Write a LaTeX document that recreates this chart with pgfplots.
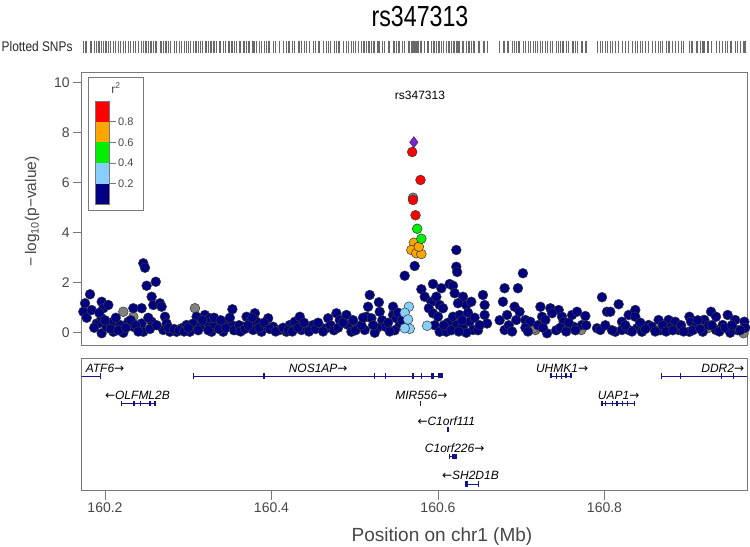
\documentclass[border=0pt]{standalone}
\usepackage{fontspec}
\setmainfont{Liberation Sans}
\newfontfamily\arrowfont{DejaVu Sans}
\usepackage{graphicx}
\usepackage{pgfplots}
\pgfplotsset{compat=1.18}
\usepackage{pgfplotstable}

\definecolor{navyc}{RGB}{0,0,128}
\definecolor{lbc}{RGB}{135,206,250}
\definecolor{orc}{RGB}{255,165,0}
\definecolor{grc}{RGB}{0,238,0}
\definecolor{rdc}{RGB}{255,0,0}
\definecolor{puc}{RGB}{125,38,205}
\definecolor{gyc}{RGB}{128,128,128}
\definecolor{edgec}{RGB}{55,55,55}
\definecolor{framec}{RGB}{120,120,120}
\definecolor{ticklabc}{RGB}{70,70,70}
\definecolor{snpc}{RGB}{105,105,105}
\definecolor{genec}{RGB}{20,20,130}

\pgfplotstableread{
x y
160.174 0.84
160.176 1.18
160.182 1.54
160.184 0.91
160.190 0.37
160.192 0.37
160.196 1.24
160.196 0.58
160.196 -0.02
160.198 0.98
160.202 0.24
160.204 1.11
160.206 0.37
160.210 0.44
160.210 0.04
160.218 0.31
160.222 0.00
160.228 0.44
160.234 0.98
160.234 0.24
160.244 0.98
160.244 0.37
160.246 0.04
160.246 2.78
160.248 2.60
160.250 1.88
160.261 2.04
160.256 1.44
160.258 1.11
160.266 1.18
160.268 1.04
160.256 0.44
160.272 0.64
160.274 0.37
160.270 0.11
160.278 0.04
160.286 0.04
160.292 0.18
160.298 0.31
160.302 0.04
160.310 0.64
160.306 0.37
160.314 0.24
160.320 0.71
160.322 0.44
160.326 0.58
160.328 0.04
160.334 0.37
160.330 0.24
160.342 0.04
160.348 0.44
160.353 0.94
160.352 0.31
160.358 0.11
160.366 0.24
160.370 0.64
160.374 0.44
160.380 0.78
160.382 0.44
160.378 0.11
160.388 0.04
160.396 0.58
160.394 0.24
160.402 0.24
160.410 0.11
160.418 0.04
160.422 0.31
160.428 0.44
160.434 0.64
160.436 0.11
160.442 0.24
160.450 0.31
160.458 0.24
160.466 0.18
160.468 0.58
160.478 0.78
160.482 0.51
160.490 0.71
160.492 0.31
160.504 0.24
160.496 0.04
160.512 0.11
160.518 1.51
160.516 1.04
160.514 0.64
160.520 0.58
160.529 1.22
160.530 0.84
160.533 0.50
160.536 0.25
160.527 0.20
160.524 0.00
160.546 1.04
160.546 0.71
160.550 0.58
160.554 0.30
160.548 0.10
160.560 2.28
160.572 2.67
160.580 1.74
160.594 1.95
160.604 1.78
160.584 1.44
160.592 1.24
160.598 1.44
160.602 1.11
160.589 0.98
160.594 0.78
160.600 0.64
160.606 0.98
160.596 0.30
160.602 0.04
160.610 0.04
160.612 0.40
160.618 0.64
160.614 1.95
160.618 1.88
160.622 3.31
160.622 2.64
160.623 2.43
160.620 1.58
160.630 1.44
160.634 1.11
160.624 1.18
160.626 0.71
160.622 0.31
160.630 0.24
160.638 0.44
160.640 1.24
160.642 0.11
160.634 0.00
160.654 1.51
160.656 1.11
160.656 0.71
160.659 0.37
160.648 0.10
160.680 1.78
160.696 1.78
160.678 1.24
160.692 1.04
160.683 0.71
160.698 0.84
160.694 0.51
160.680 0.11
160.702 2.38
160.705 0.51
160.711 0.44
160.723 1.04
160.735 0.98
160.745 0.91
160.725 0.64
160.737 0.78
160.729 0.51
160.749 0.64
160.751 0.44
160.761 0.71
160.767 0.84
160.777 0.67
160.763 0.24
160.773 0.31
160.731 -0.02
160.797 1.42
160.803 0.84
160.807 0.84
160.817 1.14
160.791 0.18
160.795 0.11
160.821 0.44
160.829 0.71
160.837 0.91
160.837 0.64
160.813 0.04
160.821 0.11
160.829 0.11
160.839 0.18
160.845 0.04
160.853 0.31
160.857 0.24
160.865 0.51
160.867 0.10
160.877 0.51
160.885 0.44
160.878 0.20
160.889 0.11
160.902 0.04
160.902 0.64
160.904 0.44
160.910 0.30
160.920 0.51
160.928 0.84
160.934 0.64
160.918 0.04
160.934 0.11
160.942 0.31
160.948 0.71
160.957 0.51
160.960 0.10
160.968 0.44
160.969 0.20
160.951 0.00
160.925 0.30
160.178 0.60
160.187 0.20
160.193 0.80
160.200 0.50
160.207 0.15
160.213 0.60
160.216 0.10
160.225 0.20
160.231 0.50
160.237 0.30
160.240 0.05
160.252 0.60
160.254 0.15
160.262 0.30
160.276 0.20
160.283 0.15
160.289 0.10
160.295 0.05
160.300 0.20
160.312 0.10
160.317 0.50
160.324 0.10
160.331 0.60
160.337 0.15
160.339 0.50
160.345 0.20
160.350 0.60
160.355 0.10
160.361 0.30
160.363 0.05
160.368 0.15
160.372 0.30
160.377 0.60
160.385 0.20
160.391 0.40
160.398 0.15
160.405 0.05
160.414 0.20
160.420 0.10
160.425 0.05
160.432 0.20
160.439 0.40
160.445 0.05
160.453 0.15
160.456 0.40
160.462 0.05
160.471 0.30
160.475 0.10
160.480 0.20
160.486 0.40
160.498 0.50
160.501 0.10
160.508 0.30
160.510 0.60
160.522 0.30
160.540 0.40
160.542 0.05
160.552 0.80
160.557 0.50
160.607 0.30
160.616 0.10
160.625 0.05
160.629 0.50
160.636 0.80
160.644 0.60
160.650 0.30
160.674 0.50
160.685 0.30
160.689 0.05
160.705 0.20
160.708 0.05
160.720 0.30
160.726 0.20
160.742 0.10
160.747 0.20
160.754 0.05
160.757 0.40
160.765 0.10
160.778 0.30
160.801 0.30
160.809 0.10
160.825 0.30
160.833 0.05
160.843 0.40
160.849 0.15
160.861 0.05
160.870 0.30
160.874 0.05
160.882 0.10
160.892 0.30
160.895 0.05
160.906 0.10
160.912 0.50
160.915 0.15
160.929 0.30
160.938 0.05
160.945 0.20
160.953 0.30
160.963 0.10
}\navytab

\pgfplotstableread{
x y
160.222 0.84
160.234 0.64
160.308 0.98
160.717 0.11
160.715 0.18
160.772 0.11
160.924 0.18
160.967 -0.02
160.919 0.51
160.570 5.40
}\graytab

\pgfplotstableread{
x y
160.565 1.04
160.560 0.80
160.564 0.53
160.566 0.16
160.587 0.28
160.560 0.18
}\lbtab

\pgfplotstableread{
x y
160.571 3.60
160.576 3.42
160.568 3.31
160.574 3.18
160.580 3.15
160.577 3.44
}\ortab

\pgfplotstableread{
x y
160.575 4.16
160.580 3.76
}\grtab

\pgfplotstableread{
x y
160.569 7.23
160.579 6.11
160.570 5.31
160.573 4.70
}\rdtab

\pgfplotstableread{
x y
160.571 7.62
}\putab

\newcommand{\ra}{{\arrowfont\upshape →}}
\newcommand{\la}{{\arrowfont\upshape ←}}

\begin{document}
\begin{tikzpicture}
\path[use as bounding box] (0,0) rectangle (750bp,547bp);

% ---------- title & SNP row
\node[anchor=center, font=\fontsize{29bp}{31bp}\selectfont] at (420bp,530.5bp) {\scalebox{0.8}[1]{rs347313}};
\node[anchor=east, font=\fontsize{14bp}{16bp}\selectfont, text=black!85] at (76bp,500bp) {\scalebox{0.85}[1]{Plotted SNPs}};

\begin{axis}[at={(81.7bp,494.5bp)}, anchor=south west, scale only axis,
  width=665.3bp, height=11.5bp, xmin=160.172, xmax=160.9712, ymin=0, ymax=1,
  hide axis, clip=false]
\addplot[only marks, mark=|, mark size=6bp, snpc, mark options={line width=0.8bp}] table[x=x, y expr=0.5] {\navytab};
\addplot[only marks, mark=|, mark size=6bp, snpc, mark options={line width=0.8bp}] table[x=x, y expr=0.5] {\graytab};
\addplot[only marks, mark=|, mark size=6bp, snpc, mark options={line width=0.8bp}] table[x=x, y expr=0.5] {\lbtab};
\addplot[only marks, mark=|, mark size=6bp, snpc, mark options={line width=0.8bp}] table[x=x, y expr=0.5] {\ortab};
\addplot[only marks, mark=|, mark size=6bp, snpc, mark options={line width=0.8bp}] table[x=x, y expr=0.5] {\grtab};
\addplot[only marks, mark=|, mark size=6bp, snpc, mark options={line width=0.8bp}] table[x=x, y expr=0.5] {\rdtab};
\addplot[only marks, mark=|, mark size=6bp, snpc, mark options={line width=0.8bp}] table[x=x, y expr=0.5] {\putab};
\end{axis}

% ---------- main association plot
\begin{axis}[at={(81.7bp,202bp)}, anchor=south west, scale only axis,
  width=665.3bp, height=273bp,
  xmin=160.172, xmax=160.9712, ymin=-0.49, ymax=10.43,
  xtick=\empty, ytick={0,2,4,6,8,10}, ytick pos=left,
  tick align=outside, major tick length=8.5bp,
  axis line style={framec, line width=0.8bp},
  tick style={framec, line width=0.8bp},
  tick label style={font=\fontsize{14bp}{16bp}\selectfont, text=ticklabc},
  /pgf/number format/assume math mode=true,
  ylabel={−\,log\textsubscript{10}(p−value)},
  every axis y label/.style={at={(axis description cs:-0.0747,0.489)}, anchor=center, rotate=90,
     font=\fontsize{15.5bp}{17bp}\selectfont, text=ticklabc},
  clip=true]
\addplot[only marks, mark=*, mark size=4.9bp, mark options={fill=gyc, draw=edgec, line width=0.5bp}] table[x=x,y=y] {\graytab};
\addplot[only marks, mark=*, mark size=4.9bp, mark options={fill=navyc, draw=edgec, line width=0.5bp}] table[x=x,y=y] {\navytab};
\addplot[only marks, mark=*, mark size=4.9bp, mark options={fill=lbc, draw=edgec, line width=0.5bp}] table[x=x,y=y] {\lbtab};
\addplot[only marks, mark=*, mark size=4.9bp, mark options={fill=orc, draw=edgec, line width=0.5bp}] table[x=x,y=y] {\ortab};
\addplot[only marks, mark=*, mark size=4.9bp, mark options={fill=grc, draw=edgec, line width=0.5bp}] table[x=x,y=y] {\grtab};
\addplot[only marks, mark=*, mark size=4.9bp, mark options={fill=rdc, draw=edgec, line width=0.5bp}] table[x=x,y=y] {\rdtab};
\addplot[only marks, mark=diamond*, mark size=5.6bp, mark options={fill=puc, draw=edgec, line width=0.5bp}] table[x=x,y=y] {\putab};
\end{axis}

% in-plot label
\node[font=\fontsize{12bp}{14bp}\selectfont] at (420bp,452bp) {rs347313};

% legend
\draw[framec, line width=0.8bp] (88bp,337bp) rectangle (143bp,470bp);
\node[font=\fontsize{12bp}{14bp}\selectfont, text=ticklabc] at (116bp,459bp) {r\textsuperscript{2}};
\fill[rdc] (95.7bp,425.3bp) rectangle (109.3bp,446bp);
\fill[orc] (95.7bp,404.6bp) rectangle (109.3bp,425.3bp);
\fill[grc] (95.7bp,383.9bp) rectangle (109.3bp,404.6bp);
\fill[lbc] (95.7bp,363.2bp) rectangle (109.3bp,383.9bp);
\fill[navyc] (95.7bp,342.5bp) rectangle (109.3bp,363.2bp);
\draw[framec, line width=0.6bp] (95.7bp,342.5bp) rectangle (109.3bp,446bp);
\foreach \yy/\lab in {425.3/0.8, 404.6/0.6, 383.9/0.4, 363.2/0.2}{
  \draw[framec, line width=0.7bp] (109.3bp,\yy bp) -- (116bp,\yy bp);
  \node[anchor=west, inner sep=0pt, font=\fontsize{11bp}{13bp}\selectfont, text=ticklabc] at (118bp,\yy bp) {\lab};
}

% ---------- gene track
\begin{axis}[at={(81.7bp,56.3bp)}, anchor=south west, scale only axis,
  width=665.3bp, height=132.7bp,
  xmin=160.172, xmax=160.9712, ymin=0, ymax=132.7,
  xtick={160.2,160.4,160.6,160.8}, xticklabels={160.2,160.4,160.6,160.8},
  xtick pos=bottom, ytick=\empty,
  tick align=outside, major tick length=9bp,
  axis line style={framec, line width=0.8bp},
  tick style={framec, line width=0.8bp},
  tick label style={font=\fontsize{14bp}{16bp}\selectfont, text=ticklabc},
  xlabel={Position on chr1 (Mb)},
  every axis x label/.style={at={(axis description cs:0.5416,-0.349)}, anchor=center,
     font=\fontsize{19bp}{21bp}\selectfont, text=ticklabc},
  clip=true]
% gene bodies
\addplot[genec, line width=0.9bp] coordinates {(160.160,114.7) (160.195,114.7)};
\addplot[genec, line width=0.9bp] coordinates {(160.306,114.7) (160.606,114.7)};
\addplot[genec, line width=0.9bp] coordinates {(160.735,114.7) (160.761,114.7)};
\addplot[genec, line width=0.9bp] coordinates {(160.869,114.7) (160.980,114.7)};
\addplot[genec, line width=0.9bp] coordinates {(160.220,87.4) (160.261,87.4)};
\addplot[genec, line width=0.9bp] coordinates {(160.797,87.4) (160.837,87.4)};
\addplot[genec, line width=0.9bp] coordinates {(160.614,34) (160.623,34)};
\addplot[genec, line width=0.9bp] coordinates {(160.632,6.7) (160.649,6.7)};
% exons
\addplot[only marks, genec, mark=|, mark size=2.6bp, mark options={line width=1.1bp}] coordinates {
 (160.195,114.7) (160.306,114.7) (160.391,114.7) (160.524,114.7) (160.537,114.7)
 (160.570,114.7) (160.580,114.7) (160.592,114.7) (160.594,114.7)
 (160.742,114.7) (160.748,114.7)
 (160.869,114.7) (160.891,114.7) (160.941,114.7) (160.955,114.7)
 (160.220,87.4) (160.243,87.4) (160.579,87.4)
 (160.797,87.4) (160.801,87.4) (160.815,87.4) (160.822,87.4) (160.836,87.4)
 (160.614,34) (160.649,6.7)};
\addplot[genec, line width=5bp] coordinates {(160.5995,114.7) (160.606,114.7)};
\addplot[genec, line width=5bp] coordinates {(160.735,114.7) (160.7375,114.7)};
\addplot[genec, line width=5bp] coordinates {(160.7525,114.7) (160.7545,114.7)};
\addplot[genec, line width=5bp] coordinates {(160.759,114.7) (160.761,114.7)};
\addplot[genec, line width=5bp] coordinates {(160.2335,87.4) (160.2365,87.4)};
\addplot[genec, line width=5bp] coordinates {(160.2525,87.4) (160.2555,87.4)};
\addplot[genec, line width=5bp] coordinates {(160.259,87.4) (160.2615,87.4)};
\addplot[genec, line width=5bp] coordinates {(160.8085,87.4) (160.8105,87.4)};
\addplot[genec, line width=5bp] coordinates {(160.8265,87.4) (160.8285,87.4)};
\addplot[genec, line width=5bp] coordinates {(160.611,60.7) (160.6135,60.7)};
\addplot[genec, line width=5bp] coordinates {(160.617,34) (160.623,34)};
\addplot[genec, line width=5bp] coordinates {(160.632,6.7) (160.6355,6.7)};
% labels
\begin{scope}[every node/.style={font=\fontsize{12bp}{14bp}\selectfont\itshape, inner sep=0pt}]
\node at (axis cs:160.200,122.4) {ATF6\ra};
\node at (axis cs:160.456,122.4) {NOS1AP\ra};
\node at (axis cs:160.749,122.4) {UHMK1\ra};
\node at (axis cs:160.942,122.4) {DDR2\ra};
\node at (axis cs:160.239,95.7) {\la OLFML2B};
\node at (axis cs:160.580,95.7) {MIR556\ra};
\node at (axis cs:160.817,95.7) {UAP1\ra};
\node at (axis cs:160.610,69.7) {\la C1orf111};
\node at (axis cs:160.620,42.4) {C1orf226\ra};
\node at (axis cs:160.639,15) {\la SH2D1B};
\end{scope}
\end{axis}
\end{tikzpicture}
\end{document}
